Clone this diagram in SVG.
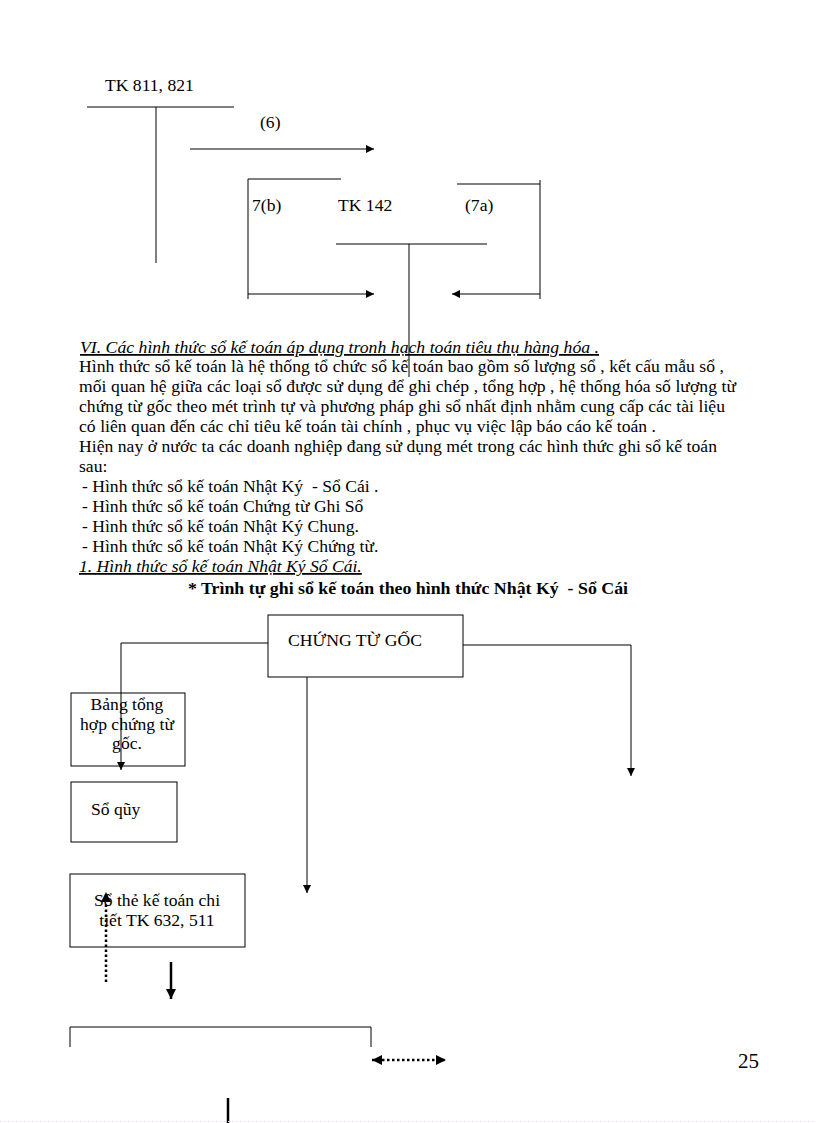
<svg xmlns="http://www.w3.org/2000/svg" width="816" height="1123" viewBox="0 0 816 1123">
<defs>
<style>
text{font-family:"Liberation Serif","Times New Roman",serif;font-size:17.6px;fill:#000}
.ln{stroke:#000;stroke-width:1;fill:none}
.box{stroke:#000;stroke-width:1;fill:none}
.thick{stroke:#000;stroke-width:2.5;fill:none}
.dot{stroke:#000;stroke-width:2.5;fill:none;stroke-dasharray:2.5 2.5}
.c{text-anchor:middle}
.it{font-style:italic;text-decoration:underline}
.b{font-weight:bold}
</style>
<marker id="ah" viewBox="0 0 10 10" refX="10" refY="5" markerWidth="8" markerHeight="8" markerUnits="userSpaceOnUse" orient="auto-start-reverse">
<path d="M0,0 L10,5 L0,10 z" fill="#000"/>
</marker>
<marker id="ahb" viewBox="0 0 10 10" refX="10" refY="5" markerWidth="4" markerHeight="4" orient="auto-start-reverse">
<path d="M0,0 L10,5 L0,10 z" fill="#000"/>
</marker>
</defs>
<rect width="816" height="1123" fill="#fff"/>

<g id="tk811">
<text x="105" y="91">TK 811, 821</text>
<line class="ln" x1="87" y1="107" x2="234" y2="107"/>
<line class="ln" x1="156" y1="107" x2="156" y2="263"/>
</g>
<g id="tk142">
<text x="338" y="211">TK 142</text>
<line class="ln" x1="336" y1="244" x2="487" y2="244"/>
<line class="ln" x1="409" y1="244" x2="409" y2="377"/>
</g>

<g id="connectors">
<line class="ln" x1="190" y1="149" x2="374" y2="149" marker-end="url(#ah)"/>
<text x="260" y="128">(6)</text>
<path class="ln" d="M341,179 H248 V299"/>
<line class="ln" x1="248" y1="294" x2="374" y2="294" marker-end="url(#ah)"/>
<text x="252" y="211">7(b)</text>
<path class="ln" d="M457,184 H540 M540,180 V299"/>
<line class="ln" x1="540" y1="294" x2="452" y2="294" marker-end="url(#ah)"/>
<text x="465" y="211">(7a)</text>

<path class="ln" d="M268,643 H121 V770" marker-end="url(#ah)"/>
<path class="ln" d="M463,645 H631 V776" marker-end="url(#ah)"/>
<line class="ln" x1="307" y1="677" x2="307" y2="893" marker-end="url(#ah)"/>
<line class="dot" x1="106" y1="982" x2="106" y2="892" marker-end="url(#ahb)"/>
<line class="thick" x1="171" y1="962" x2="171" y2="999" marker-end="url(#ahb)"/>
<line class="dot" x1="372" y1="1060" x2="446" y2="1060" marker-start="url(#ahb)" marker-end="url(#ahb)"/>
<line class="thick" x1="228" y1="1098" x2="228" y2="1123"/>
</g>

<g id="body-text">
<text class="it" x="80" y="353" textLength="519" lengthAdjust="spacingAndGlyphs">VI. Các hình thức sổ kế toán áp dụng tronh hạch toán tiêu thụ hàng hóa .</text>
<text x="79" y="372" textLength="645" lengthAdjust="spacing">Hình thức sổ kế toán là hệ thống tổ chức sổ kế toán bao gồm số lượng sổ , kết cấu mẫu sổ ,</text>
<text x="79" y="392" textLength="657" lengthAdjust="spacing">mối quan hệ giữa các loại sổ được sử dụng để ghi chép , tổng hợp , hệ thống hóa số lượng từ</text>
<text x="79" y="412" textLength="646" lengthAdjust="spacing">chứng từ gốc theo mét trình tự và phương pháp ghi sổ nhất định nhằm cung cấp các tài liệu</text>
<text x="79" y="432" textLength="577" lengthAdjust="spacing">có liên quan đến các chỉ tiêu kế toán tài chính , phục vụ việc lập báo cáo kế toán .</text>
<text x="79" y="452" textLength="638" lengthAdjust="spacing">Hiện nay ở nước ta các doanh nghiệp đang sử dụng mét trong các hình thức ghi sổ kế toán</text>
<text x="79" y="472">sau:</text>
<text x="82" y="492">- Hình thức sổ kế toán Nhật Ký &#160;- Sổ Cái .</text>
<text x="82" y="512">- Hình thức sổ kế toán Chứng từ Ghi Sổ</text>
<text x="82" y="532">- Hình thức sổ kế toán Nhật Ký Chung.</text>
<text x="82" y="552">- Hình thức sổ kế toán Nhật Ký Chứng từ.</text>
<text class="it" x="79" y="572">1. Hình thức sổ kế toán Nhật Ký Sổ Cái.</text>
<text class="b" x="188" y="594" textLength="440" lengthAdjust="spacingAndGlyphs">* Trình tự ghi sổ kế toán theo hình thức Nhật Ký &#160;- Sổ Cái</text>
</g>

<g id="chung-tu-goc">
<rect class="box" x="268" y="615" width="195" height="62"/>
<text x="288" y="646" textLength="134" lengthAdjust="spacingAndGlyphs">CHỨNG TỪ GỐC</text>
</g>
<g id="bang-tong-hop">
<rect class="box" x="71" y="693" width="114" height="73"/>
<text class="c" x="127" y="710">Bảng tổng</text>
<text class="c" x="127" y="730">hợp chứng từ</text>
<text class="c" x="127" y="749">gốc.</text>
</g>
<g id="so-quy">
<rect class="box" x="71" y="782" width="106" height="60"/>
<text x="91" y="815">Sổ qũy</text>
</g>
<g id="so-the">
<rect class="box" x="70" y="874" width="175" height="73"/>
<text class="c" x="157" y="906">Sổ thẻ kế toán chi</text>
<text class="c" x="157" y="926">tiết TK 632, 511</text>
</g>
<g id="bottom-box">
<path class="ln" d="M70,1047 V1027 H371 V1047"/>
</g>

<text x="738" y="1068" style="font-size:21px">25</text>
<line x1="0" y1="1121.5" x2="816" y2="1121.5" stroke="#f2c6ee" stroke-width="1" stroke-dasharray="1 3"/>
</svg>
